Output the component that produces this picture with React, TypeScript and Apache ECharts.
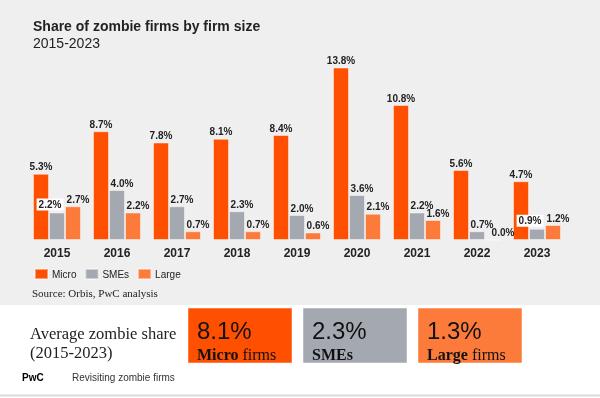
import React, { useEffect, useRef } from "react";
import * as echarts from "echarts";

const years = ["2015", "2016", "2017", "2018", "2019", "2020", "2021", "2022", "2023"];
const micro = [5.3, 8.7, 7.8, 8.1, 8.4, 13.8, 10.8, 5.6, 4.7];
const smes = [2.2, 4.0, 2.7, 2.3, 2.0, 3.6, 2.2, 0.7, 0.9];
const large = [2.7, 2.2, 0.7, 0.7, 0.6, 2.1, 1.6, 0.0, 1.2];
const seriesNames = ["Micro", "SMEs", "Large"];
const averages = ["8.1%", "2.3%", "1.3%"];
const avgLabelsBold = ["Micro", "SMEs", "Large"];
const avgLabelsRest = [" firms", "", " firms"];
const whiteLabelIdx = { SMEs: [0, 8] } as Record<string, number[]>;

const colors = ["#fe5000", "#a3a8b1", "#fd7b3a"];

export default function App() {
  const ref = useRef<HTMLDivElement>(null);
  useEffect(() => {
    if (!ref.current) return;
    const chart = echarts.init(ref.current, null, { renderer: "svg" });
    const sans = "Liberation Sans, Arial, sans-serif";
    const serif = "Liberation Serif, Georgia, serif";
    const mk = (name: string, vals: number[], color: string, dx: number) => ({
      name,
      type: "bar",
      barWidth: 16,
      barGap: "0%",
      itemStyle: { color, borderColor: "rgba(255,255,255,0.45)", borderWidth: 1 },
      label: {
        show: true,
        position: "top",
        distance: 2,
        offset: [dx, 0],
        formatter: (p: any) => p.value.toFixed(1) + "%",
        fontFamily: sans,
        fontWeight: "bold",
        fontSize: 10,
        color: "#222",
      },
      data: vals.map((v, i) => {
        if ((whiteLabelIdx[name] || []).includes(i))
          return { value: v, label: { backgroundColor: "#fff", padding: [1, 2], offset: [-7, 0] } };
        if (v === 0) return { value: v, label: { offset: [10, 0] } };
        return v;
      }),
    });
    const boxX = [188, 303, 418];
    const graphics: any[] = [
      { type: "rect", z: -10, shape: { x: 0, y: 0, width: 600, height: 305 }, style: { fill: "#efefef" }, silent: true },
      { type: "rect", z: -10, shape: { x: 0, y: 305, width: 600, height: 93 }, style: { fill: "#ffffff" }, silent: true },
      { type: "line", shape: { x1: 0, y1: 395.5, x2: 600, y2: 395.5 }, style: { stroke: "#d9d9d9", lineWidth: 2 } },
      { type: "text", x: 33, y: 26, style: { text: "Share of zombie firms by firm size", font: `bold 14px ${sans}`, fill: "#222", verticalAlign: "middle" } },
      { type: "text", x: 33, y: 43, style: { text: "2015-2023", font: `14px ${sans}`, fill: "#222", verticalAlign: "middle" } },
      { type: "text", x: 32, y: 293, style: { text: "Source: Orbis, PwC analysis", font: `11px ${serif}`, fill: "#222", verticalAlign: "middle" } },
      { type: "text", x: 30, y: 333, style: { text: "Average zombie share", font: `16.5px ${serif}`, fill: "#222", verticalAlign: "middle" } },
      { type: "text", x: 30, y: 352, style: { text: "(2015-2023)", font: `16.5px ${serif}`, fill: "#222", verticalAlign: "middle" } },
      { type: "text", x: 22, y: 377, style: { text: "PwC", font: `bold 10px ${sans}`, fill: "#000", verticalAlign: "middle" } },
      { type: "text", x: 72, y: 377, style: { text: "Revisiting zombie firms", font: `10px ${sans}`, fill: "#333", verticalAlign: "middle" } },
    ];
    boxX.forEach((x, i) => {
      graphics.push({ type: "rect", shape: { x, y: 308, width: 104, height: 55 }, style: { fill: colors[i], stroke: "rgba(255,255,255,0.5)", lineWidth: 1 } });
      graphics.push({ type: "text", x: x + 9, y: 330, style: { text: averages[i], font: `24px ${sans}`, fill: "#111", verticalAlign: "middle" } });
      graphics.push({
        type: "text",
        x: x + 9,
        y: 354,
        style: {
          text: `{b|${avgLabelsBold[i]}}{r|${avgLabelsRest[i]}}`,
          verticalAlign: "middle",
          rich: {
            b: { font: `bold 16px ${serif}`, fill: "#111" },
            r: { font: `16px ${serif}`, fill: "#111" },
          },
        },
      });
    });
    chart.setOption({
      animation: false,
      backgroundColor: "transparent",
      grid: { left: 27, right: 33, top: 52.5, bottom: 398 - 240 },
      xAxis: {
        type: "category",
        data: years,
        axisLine: { show: false },
        axisTick: { show: false },
        axisLabel: { fontFamily: sans, fontWeight: "bold", fontSize: 12, color: "#222", margin: 7 },
      },
      yAxis: { type: "value", min: 0, max: 15, show: false, splitLine: { show: false } },
      legend: {
        data: seriesNames,
        left: 29,
        top: 263,
        itemWidth: 13,
        itemHeight: 10,
        itemGap: 8,
        icon: "rect",
        textStyle: { fontFamily: sans, fontSize: 10, color: "#222", padding: [0, 0, 0, -1] },
      },
      graphic: graphics,
      series: [mk("Micro", micro, colors[0], 0), mk("SMEs", smes, colors[1], 5), mk("Large", large, colors[2], 5)],
    });
    return () => chart.dispose();
  }, []);
  return <div ref={ref} style={{ position: "fixed", left: 0, top: 0, width: 600, height: 398 }} />;
}
